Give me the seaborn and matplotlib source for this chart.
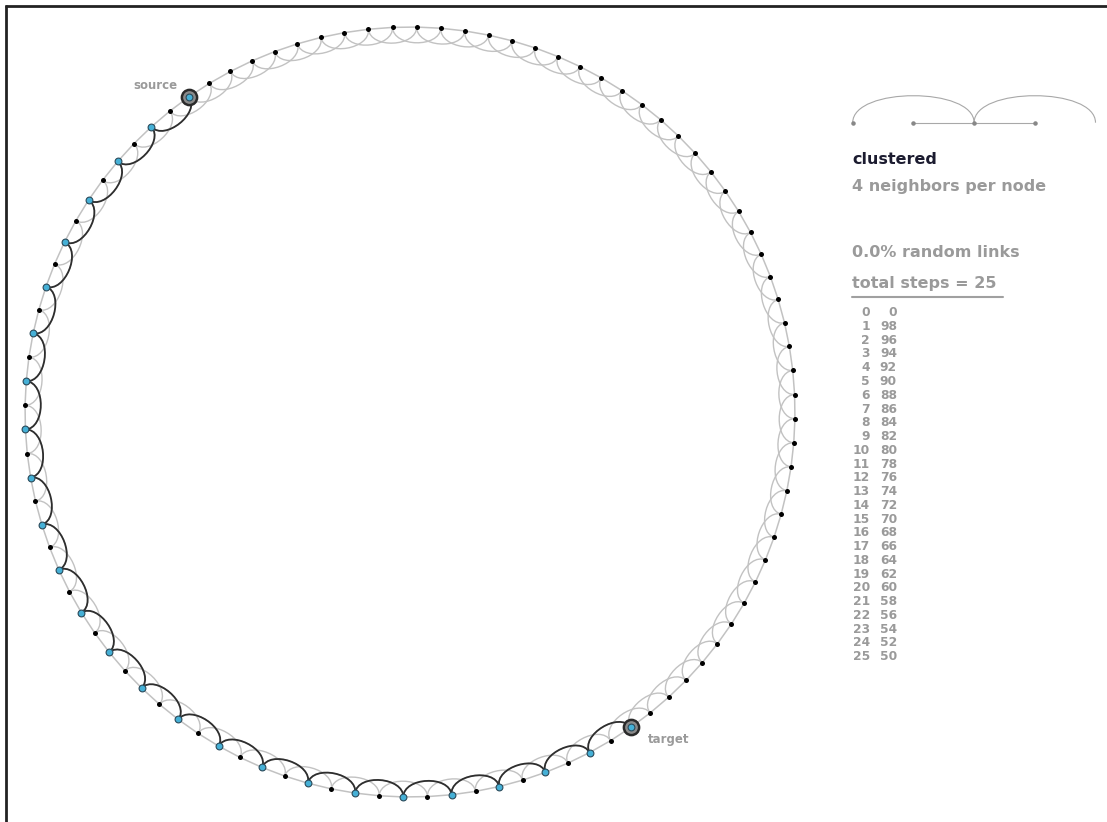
import numpy as np
import pandas as pd
import matplotlib
matplotlib.use('Agg')
import matplotlib.pyplot as plt
from matplotlib.path import Path
from matplotlib.patches import PathPatch
import seaborn as sns

# Data
n_nodes = 100
link_reach = 2            # links to the 2 nearest nodes on each side
path_steps = [0, 1, 2, 3, 4, 5, 6, 7, 8, 9, 10, 11, 12, 13, 14, 15, 16, 17,
              18, 19, 20, 21, 22, 23, 24, 25]
path_nodes = [0, 98, 96, 94, 92, 90, 88, 86, 84, 82, 80, 78, 76, 74, 72, 70,
              68, 66, 64, 62, 60, 58, 56, 54, 52, 50]
source_node = 0
target_node = 50
random_pct = 0.0
title_text = 'clustered'
neighbors_text = '4 neighbors per node'

sns.set_theme(style='white')
plt.rcParams['font.family'] = ['DejaVu Sans']

# ring layout (pixel space)
CX, CY, R = 410, 412, 385
START_DEG = 125
ARC_DEPTH = 20
GRAY = '#c2c2c2'
DARK = '#2e2e2e'
BLUE = '#45b0d6'
TXT = '#9a9a9a'


def node_xy(k):
    ang = np.deg2rad(START_DEG - k * 360.0 / n_nodes)
    return CX + R * np.cos(ang), CY - R * np.sin(ang)


def inward_arc(ax, a, b, depth, **kw):
    # cubic curve between two ring nodes, bulging toward the centre
    p0 = np.array(node_xy(a))
    p3 = np.array(node_xy(b))
    n0 = (np.array([CX, CY]) - p0) / R
    n3 = (np.array([CX, CY]) - p3) / R
    verts = [p0, p0 + depth * n0, p3 + depth * n3, p3]
    codes = [Path.MOVETO, Path.CURVE4, Path.CURVE4, Path.CURVE4]
    ax.add_patch(PathPatch(Path(verts, codes), fill=False, **kw))


nodes = pd.DataFrame({'node': np.arange(n_nodes)})
nodes['x'] = [node_xy(k)[0] for k in nodes['node']]
nodes['y'] = [node_xy(k)[1] for k in nodes['node']]
nodes['on_path'] = nodes['node'].isin(path_nodes)

fig = plt.figure(figsize=(11.07, 8.22), dpi=100)
ax = fig.add_axes([0, 0, 1, 1])
ax.set_xlim(0, 1107)
ax.set_ylim(822, 0)
ax.axis('off')

# ring links to direct neighbours
for k in range(n_nodes):
    x0, y0 = node_xy(k)
    x1, y1 = node_xy((k + 1) % n_nodes)
    ax.plot([x0, x1], [y0, y1], color=GRAY, lw=1.1, zorder=1)

# links to second neighbours
for k in range(n_nodes):
    inward_arc(ax, k, (k + link_reach) % n_nodes, ARC_DEPTH,
               edgecolor=GRAY, lw=1.0, zorder=1)

# the walk from source to target
for a, b in zip(path_nodes[:-1], path_nodes[1:]):
    inward_arc(ax, a, b, ARC_DEPTH, edgecolor=DARK, lw=1.3, zorder=2)

sns.scatterplot(data=nodes[~nodes['on_path']], x='x', y='y', color='black',
                s=13, linewidth=0, ax=ax, zorder=3, legend=False)
sns.scatterplot(data=nodes[nodes['on_path']], x='x', y='y', color=BLUE,
                s=24, edgecolor='#2a4a5a', linewidth=0.8, ax=ax, zorder=4,
                legend=False)

ends = nodes[nodes['node'].isin([source_node, target_node])]
ax.scatter(ends['x'], ends['y'], s=120, facecolor='#8a8a8a',
           edgecolor='#2a2a2a', linewidths=1.8, zorder=5)
ax.scatter(ends['x'], ends['y'], s=24, facecolor=BLUE,
           edgecolor='#2a4a5a', linewidths=0.8, zorder=6)
ax.set_xlabel('')
ax.set_ylabel('')

sx, sy = node_xy(source_node)
tx, ty = node_xy(target_node)
ax.text(sx - 12, sy - 11, 'source', color=TXT, fontsize=8.5,
        fontweight='bold', ha='right', va='center')
ax.text(tx + 17, ty + 12, 'target', color=TXT, fontsize=8.5,
        fontweight='bold', ha='left', va='center')

# little key diagram of the linking rule
key_x = [852.7 + 60.7 * i for i in range(5)]
key_y = 122.7
ax.plot([key_x[1], key_x[3]], [key_y, key_y], color='#a8a8a8', lw=0.8)
for i in (0, 2):
    verts = [(key_x[i], key_y), (key_x[i], key_y - 36),
             (key_x[i + 2], key_y - 36), (key_x[i + 2], key_y)]
    codes = [Path.MOVETO, Path.CURVE4, Path.CURVE4, Path.CURVE4]
    ax.add_patch(PathPatch(Path(verts, codes), fill=False,
                           edgecolor='#a8a8a8', lw=0.8))
ax.scatter(key_x[:4], [key_y] * 4, s=5, color='#888888', zorder=3)

# side texts
ax.text(852, 160, title_text, color='#1c1c30', fontsize=11.5,
        fontweight='bold', va='center')
ax.text(852, 186, neighbors_text, color=TXT, fontsize=11.5,
        fontweight='bold', va='center')
ax.text(852, 252, f'{random_pct:.1f}% random links', color=TXT,
        fontsize=11.5, fontweight='bold', va='center')
ax.text(852, 283, f'total steps = {path_steps[-1]}', color=TXT,
        fontsize=11.5, fontweight='bold', va='center')
ax.plot([852, 1003], [297, 297], color='#a0a0a0', lw=1.5)

for step, node in zip(path_steps, path_nodes):
    y = 312.7 + step * 13.76
    ax.text(870, y, str(step), color=TXT, fontsize=8.8, fontweight='bold',
            ha='right', va='center')
    ax.text(897, y, str(node), color=TXT, fontsize=8.8, fontweight='bold',
            ha='right', va='center')

# frame edges at top and left
ax.plot([5, 1107], [6, 6], color='#222222', lw=2, solid_capstyle='butt')
ax.plot([6, 6], [5, 822], color='#222222', lw=2, solid_capstyle='butt')

fig.savefig('out.png', dpi=100)
plt.close(fig)
